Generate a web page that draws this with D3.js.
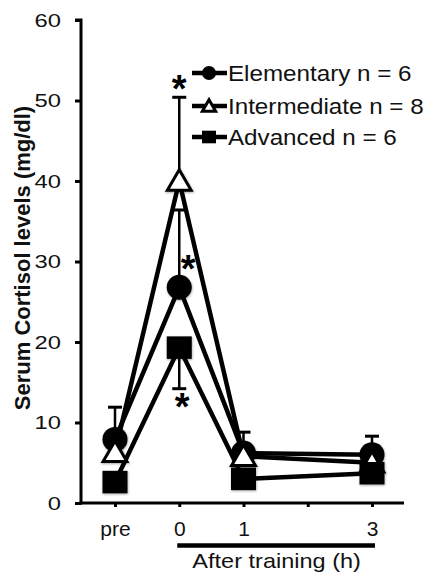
<!DOCTYPE html>
<html lang="en">
<head>
<meta charset="UTF-8">
<title>Serum cortisol</title>
<style>
    body { margin: 0; background: #fff; }
    svg { display: block; font-family: "Liberation Sans", Arial, sans-serif; }
</style>
<script src="https://cdn.jsdelivr.net/npm/d3@7"></script>
</head>
<body>
<div id="graphic"></div>
<script>
// time points: pre is put at -1 so that the hours line up
var timePoints = [-1, 0, 1, 3];
var xTickValues = [-1, 0, 1, 2, 3];
var xTickLabels = ['pre', '0', '1', '', '3'];
var yTickValues = [0, 10, 20, 30, 40, 50, 60];

var seriesNames = ['Elementary n = 6', 'Intermediate n = 8', 'Advanced n = 6'];
var elementary = [7.9, 26.8, 6.2, 6.0];
var elementaryErr = [4.0, 9.6, 2.6, 2.3];
var intermediate = [6.3, 40.0, 5.8, 5.0];
var intermediateErr = [0, 10.4, 0, 0];
var advanced = [2.6, 19.3, 3.0, 3.7];
var advancedErr = [0, -5.1, 0, 0];   // negative = bar drawn downward

var width = 425, height = 575;

var x = d3.scaleLinear().domain([-1, 3]).range([115, 372]);
var y = d3.scaleLinear().domain([0, 60]).range([503, 20]);

var svg = d3.select('#graphic').append('svg')
    .attr('width', width)
    .attr('height', height);

// soft shadow under the markers
var defs = svg.append('defs');
var f = defs.append('filter').attr('id', 'shadow').attr('x', '-30%').attr('y', '-30%').attr('width', '160%').attr('height', '160%');
f.append('feDropShadow').attr('dx', 0.5).attr('dy', 1).attr('stdDeviation', 1.2).attr('flood-color', '#000').attr('flood-opacity', 0.35);

// axes
var yAxis = d3.axisLeft(y).tickValues(yTickValues).tickSize(6).tickPadding(13);
var gy = svg.append('g').attr('transform', 'translate(81,0)').call(yAxis);
gy.select('.domain').attr('d', 'M-6,' + y(60) + 'H0V' + (y(0) + 1.5)).attr('stroke-width', 3).attr('fill', 'none');
gy.selectAll('.tick line').attr('stroke-width', 3);
gy.selectAll('.tick text')
    .attr('font-size', 19)
    .attr('fill', '#111')
    .attr('transform', 'scale(1.25,1)')
    .attr('x', -20 / 1.25);

var xAxis = d3.axisBottom(x).tickValues(xTickValues).tickSize(4).tickPadding(14)
    .tickFormat(function (d, i) { return xTickLabels[i]; });
var gx = svg.append('g').attr('transform', 'translate(0,' + y(0) + ')').call(xAxis);
gx.select('.domain').attr('d', 'M79.5,0H404').attr('stroke-width', 3);
gx.selectAll('.tick line').attr('stroke-width', 3);
gx.selectAll('.tick text').attr('font-size', 21).attr('fill', '#111');

// bar under the after-training hours
svg.append('line')
    .attr('x1', x(0) - 2).attr('x2', x(3) + 3)
    .attr('y1', 545.5).attr('y2', 545.5)
    .attr('stroke', '#000').attr('stroke-width', 4.5);

svg.append('text')
    .attr('x', (x(0) + x(3)) / 2 + 1)
    .attr('y', 568)
    .attr('text-anchor', 'middle')
    .attr('font-size', 21)
    .attr('fill', '#111')
    .attr('transform', 'translate(' + (-0.12 * ((x(0) + x(3)) / 2 + 1)) + ',0) scale(1.12,1)')
    .text('After training (h)');

svg.append('text')
    .attr('transform', 'translate(30,258) rotate(-90)')
    .attr('text-anchor', 'middle')
    .attr('font-size', 22)
    .attr('font-weight', 'bold')
    .attr('fill', '#111')
    .text('Serum Cortisol levels (mg/dl)');

var series = [
    { name: seriesNames[0], values: elementary, err: elementaryErr, shape: 'circle' },
    { name: seriesNames[1], values: intermediate, err: intermediateErr, shape: 'triangle' },
    { name: seriesNames[2], values: advanced, err: advancedErr, shape: 'square' }
];
series.forEach(function (s) {
    s.points = timePoints.map(function (t, i) { return { t: t, v: s.values[i], e: s.err[i] }; });
});

var line = d3.line().x(function (d) { return x(d.t); }).y(function (d) { return y(d.v); });

// error bars
series.forEach(function (s) {
    var bars = s.points.filter(function (d) { return d.e !== 0; });
    var g = svg.append('g').attr('stroke', '#000').attr('stroke-width', 2.5);
    g.selectAll('line.stem').data(bars).join('line')
        .attr('x1', function (d) { return x(d.t); })
        .attr('x2', function (d) { return x(d.t); })
        .attr('y1', function (d) { return y(d.v); })
        .attr('y2', function (d) { return y(d.v + d.e); });
    g.selectAll('line.cap').data(bars).join('line')
        .attr('x1', function (d) { return x(d.t) - 7; })
        .attr('x2', function (d) { return x(d.t) + 7; })
        .attr('y1', function (d) { return y(d.v + d.e); })
        .attr('y2', function (d) { return y(d.v + d.e); })
        .attr('stroke-width', 3);
});

// lines
svg.append('g').selectAll('path').data(series).join('path')
    .attr('d', function (s) { return line(s.points); })
    .attr('fill', 'none')
    .attr('stroke', '#000')
    .attr('stroke-width', 4.5)
    .attr('stroke-linejoin', 'round');

function drawMarker(g, shape, cx, cy, size) {
    if (shape === 'circle') {
        g.append('circle').attr('cx', cx).attr('cy', cy).attr('r', size / 2).attr('fill', '#000');
    } else if (shape === 'square') {
        g.append('rect').attr('x', cx - size / 2).attr('y', cy - size * 0.45)
            .attr('width', size).attr('height', size * 0.9).attr('fill', '#000');
    } else {
        var w = size * 0.95, h = size * 0.82;
        g.append('path')
            .attr('d', 'M' + cx + ',' + (cy - h * 0.55) + 'L' + (cx + w / 2) + ',' + (cy + h * 0.45) + 'L' + (cx - w / 2) + ',' + (cy + h * 0.45) + 'Z')
            .attr('fill', '#fff').attr('stroke', '#000').attr('stroke-width', 3).attr('stroke-linejoin', 'miter');
    }
}

// markers
var markerG = svg.append('g').attr('filter', 'url(#shadow)');
series.forEach(function (s) {
    s.points.forEach(function (d) {
        drawMarker(markerG, s.shape, x(d.t), y(d.v), 25);
    });
});

// significance marks
var stars = [
    { x: x(0), y: y(intermediate[1] + intermediateErr[1]) - 11 },
    { x: x(0) + 9, y: y(elementary[1]) - 21 },
    { x: x(0) + 3, y: y(advanced[1] + advancedErr[1]) + 15 }
];
svg.append('g').selectAll('text').data(stars).join('text')
    .attr('x', function (d) { return d.x; })
    .attr('y', function (d) { return d.y + 16; })
    .attr('text-anchor', 'middle')
    .attr('font-size', 38)
    .attr('font-weight', 'bold')
    .attr('fill', '#000')
    .text('*');

// legend
var legend = svg.append('g').selectAll('g').data(series).join('g')
    .attr('transform', function (d, i) { return 'translate(192,' + [73, 106, 137][i] + ')'; });
legend.append('line').attr('x1', 0).attr('x2', 35).attr('stroke', '#000').attr('stroke-width', 4.5);
legend.each(function (s) { drawMarker(d3.select(this), s.shape, 17, 0, 14); });
legend.append('text')
    .attr('x', 36 / 1.1)
    .attr('y', 8)
    .attr('font-size', 22)
    .attr('fill', '#111')
    .attr('transform', 'scale(1.1,1)')
    .text(function (d) { return d.name; });
</script>
</body>
</html>
